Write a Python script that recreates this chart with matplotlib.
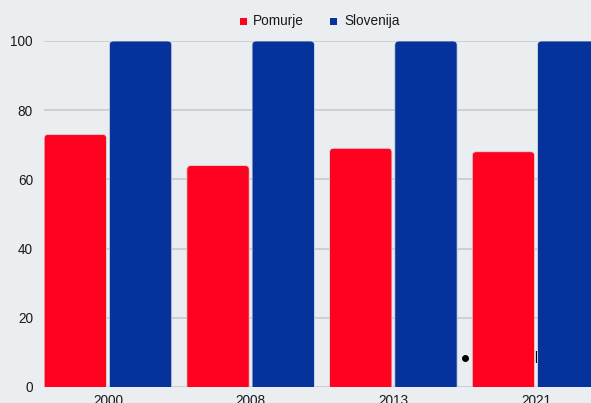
import matplotlib
matplotlib.use("Agg")
import matplotlib.pyplot as plt
from matplotlib.patches import FancyBboxPatch
from matplotlib.lines import Line2D
import numpy as np

plt.rcParams['font.family'] = ['Liberation Sans', 'DejaVu Sans']

years = ["2000", "2008", "2013", "2021"]
pomurje = [73, 64, 69, 68]
slovenija = [100, 100, 100, 100]
series_names = ["Pomurje", "Slovenija"]
colors = ["#ff0220", "#06339b"]
bg = "#ebeef0"
txt = "#1a1a1a"

fig = plt.figure(figsize=(5.91, 4.03), dpi=100, facecolor=bg)
ax = fig.add_axes([44/591, 16/403, 556/591, 346/403], facecolor=bg)

x = np.arange(len(years))
w = 0.437
gap = 0.01
ax.set_xlim(-0.448, 3.448)
ax.set_ylim(0, 100)

px_x = 556 / 3.896   # px per x unit
px_y = 346 / 100     # px per y unit
aspect = px_x / px_y
rad = 4 / px_x

for vals, off, col in [(pomurje, -w/2 - gap, colors[0]), (slovenija, w/2 + gap, colors[1])]:
    bars = ax.bar(x + off, vals, width=w, color=col)
    for b in bars:
        b.set_visible(False)
        bx, bw, bh = b.get_x(), b.get_width(), b.get_height()
        p = FancyBboxPatch((bx + rad, -10), bw - 2*rad, bh + 10 - rad*aspect,
                           boxstyle=f"round,pad={rad}", mutation_aspect=aspect,
                           facecolor=col, edgecolor="#d8dce0", linewidth=0.6, zorder=3)
        ax.add_patch(p)

ax.set_yticks([0, 20, 40, 60, 80, 100])
ax.set_yticklabels(["0", "20", "40", "60", "80", "100"], fontsize=9.8, color=txt)
ax.set_xticks(x)
ax.set_xticklabels(years, fontsize=9.8, color=txt)
ax.tick_params(length=0)
ax.tick_params(axis="y", pad=8)
ax.tick_params(axis="x", pad=5)
ax.grid(axis="y", color="#c8cbcd", linewidth=1.2, zorder=0)
ax.set_axisbelow(True)
for s in ax.spines.values():
    s.set_visible(False)

# legend
fig.patches.append(plt.Rectangle((240/591, 1 - 25/403), 7/591, 7/403, transform=fig.transFigure,
                                 facecolor=colors[0], edgecolor="none"))
fig.text(253/591, 1 - 21/403, series_names[0], fontsize=9.8, va="center", ha="left", color=txt)
fig.patches.append(plt.Rectangle((330/591, 1 - 25/403), 7/591, 7/403, transform=fig.transFigure,
                                 facecolor=colors[1], edgecolor="none"))
fig.text(344/591, 1 - 21/403, series_names[1], fontsize=9.8, va="center", ha="left", color=txt)

# stray marks
fig.add_artist(Line2D([465/591], [1 - 357.5/403], marker="o", markersize=4, color="black",
                      linestyle="none", transform=fig.transFigure))
ax.text(534/591 * 591 / 556 - 44/556, (387 - 357) / 346, "[", transform=ax.transAxes,
        fontsize=9, ha="left", va="center", color="black", zorder=2)

fig.savefig("out.png", dpi=100, facecolor=bg)
